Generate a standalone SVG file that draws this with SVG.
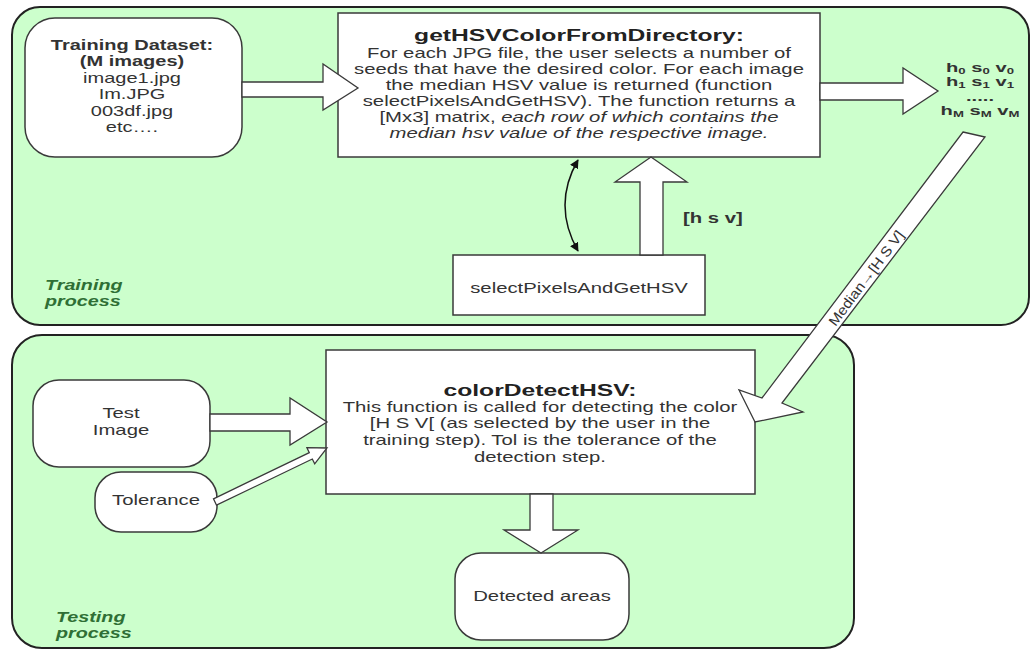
<svg xmlns="http://www.w3.org/2000/svg" width="1034" height="650" viewBox="0 0 1034 650">
<style>
.cont{fill:#ccffcc;stroke:#222;stroke-width:2}
.box{fill:#fff;stroke:#3a3a3a;stroke-width:1.5}
.blk{fill:#fff;stroke:#3a3a3a;stroke-width:1.3;stroke-linejoin:miter}
text{font-family:"Liberation Sans",Arial,sans-serif;fill:#333;text-anchor:middle}
.b{font-size:14px}
.bb{font-size:14px;font-weight:bold}
.hs{font-size:13px;font-weight:bold}
.tt{font-size:17px;font-weight:bold;fill:#222}
.it{font-style:italic}
.lab{font-size:14px;font-weight:bold;font-style:italic;fill:#2f6f35;text-anchor:start}
</style>
<defs>
<marker id="ah" viewBox="0 0 10 10" refX="9" refY="5" markerWidth="9" markerHeight="9" markerUnits="userSpaceOnUse" orient="auto-start-reverse">
<path d="M0,0 L10,5 L0,10 z" fill="#111"/>
</marker>
</defs>

<g id="training-process">
<rect class="cont" x="12" y="7" width="1017" height="318" rx="28"/>
<g transform="translate(45 0) scale(1.41 1)">
<text class="lab" x="0" y="290">Training</text>
<text class="lab" x="0" y="306">process</text>
</g>
</g>

<g id="testing-process">
<rect class="cont" x="12" y="335" width="842" height="313" rx="30"/>
<g transform="translate(56 0) scale(1.41 1)">
<text class="lab" x="0" y="622">Testing</text>
<text class="lab" x="0" y="638">process</text>
</g>
</g>

<g id="training-dataset">
<rect class="box" x="25" y="18" width="217" height="139" rx="30"/>
<g transform="translate(132 0) scale(1.43 1)">
<text class="bb" x="0" y="50">Training Dataset:</text>
<text class="bb" x="0" y="66.5">(M images)</text>
<text class="b" x="0" y="83">image1.jpg</text>
<text class="b" x="0" y="99.5">Im.JPG</text>
<text class="b" x="0" y="116">003df.jpg</text>
<text class="b" x="0" y="132.5">etc….</text>
</g>
</g>

<g id="getHSVColorFromDirectory">
<rect class="box" x="338" y="13" width="482" height="144"/>
<g transform="translate(579 0) scale(1.45 1)">
<text class="tt" x="0" y="41">getHSVColorFromDirectory:</text>
<text class="b" x="0" y="58">For each JPG file, the user selects a number of</text>
<text class="b" x="0" y="74">seeds that have the desired color. For each image</text>
<text class="b" x="0" y="90">the median HSV value is returned (function</text>
<text class="b" x="0" y="106">selectPixelsAndGetHSV). The function returns a</text>
<text class="b" x="0" y="122">[Mx3] matrix, <tspan class="it">each row of which contains the</tspan></text>
<text class="b it" x="0" y="138">median hsv value of the respective image.</text>
</g>
</g>

<g id="hsv-matrix">
<g transform="translate(980 0) scale(1.55 1)">
<text class="hs" x="0" y="72">h<tspan font-size="8.5" dy="2">0</tspan><tspan dy="-2"> s</tspan><tspan font-size="8.5" dy="2">0</tspan><tspan dy="-2"> v</tspan><tspan font-size="8.5" dy="2">0</tspan></text>
<text class="hs" x="0" y="86.5">h<tspan font-size="8.5" dy="2">1</tspan><tspan dy="-2"> s</tspan><tspan font-size="8.5" dy="2">1</tspan><tspan dy="-2"> v</tspan><tspan font-size="8.5" dy="2">1</tspan></text>
<text class="hs" x="0" y="101">.....</text>
<text class="hs" x="0" y="115.5">h<tspan font-size="8.5" dy="2">M</tspan><tspan dy="-2"> s</tspan><tspan font-size="8.5" dy="2">M</tspan><tspan dy="-2"> v</tspan><tspan font-size="8.5" dy="2">M</tspan></text>
</g>
</g>

<g id="selectPixelsAndGetHSV">
<rect class="box" x="453" y="255" width="252" height="60"/>
<g transform="translate(579 0) scale(1.45 1)">
<text class="b" x="0" y="293">selectPixelsAndGetHSV</text>
</g>
</g>

<g id="test-image">
<rect class="box" x="33" y="380" width="177" height="87" rx="26"/>
<g transform="translate(121 0) scale(1.45 1)">
<text class="b" x="0" y="418">Test</text>
<text class="b" x="0" y="435">Image</text>
</g>
</g>

<g id="tolerance">
<rect class="box" x="95" y="472" width="122" height="60" rx="26"/>
<g transform="translate(156 0) scale(1.45 1)">
<text class="b" x="0" y="505">Tolerance</text>
</g>
</g>

<g id="colorDetectHSV">
<rect class="box" x="326" y="350" width="429" height="144"/>
<g transform="translate(540 0) scale(1.45 1)">
<text class="tt" x="0" y="396">colorDetectHSV:</text>
<text class="b" x="0" y="412">This function is called for detecting the color</text>
<text class="b" x="0" y="428">[H S V[ (as selected by the user in the</text>
<text class="b" x="0" y="445">training step). Tol is the tolerance of the</text>
<text class="b" x="0" y="462">detection step.</text>
</g>
</g>

<g id="detected-areas">
<rect class="box" x="455" y="553" width="174" height="87" rx="26"/>
<g transform="translate(542 0) scale(1.45 1)">
<text class="b" x="0" y="601">Detected areas</text>
</g>
</g>

<g id="connectors">
<polygon class="blk" points="242,82 323,82 323,64 358,88 323,110 323,97 242,97"/>
<polygon class="blk" points="820,83 903,83 903,68 938,91 903,114 903,100 820,100"/>
<polygon class="blk" points="640,255 640,182 615,182 651,157 687,182 663,182 663,255"/>
<path d="M578,160 Q552,205 578,251" fill="none" stroke="#111" stroke-width="1.5" marker-start="url(#ah)" marker-end="url(#ah)"/>
<g transform="translate(683 0) scale(1.45 1)">
<text class="bb" x="0" y="223" style="text-anchor:start">[h s v]</text>
</g>
<polygon class="blk" points="963,132 985,137 782,403 803,412 755,422 739,390 762,398"/>
<text x="0" y="0" font-size="14" textLength="115" lengthAdjust="spacingAndGlyphs" transform="translate(866 278) rotate(-53)" dy="5">Median→[H S V]</text>
<polygon class="blk" points="210,414 290,414 290,398 327,422 290,445 290,431 210,431"/>
<polygon class="blk" points="213.5,498.8 309.3,452.6 306.9,447.7 327,448 314.7,463.9 312.3,459 216.5,505.2"/>
<polygon class="blk" points="530,494 530,530 504,530 541,553 578,530 553,530 553,494"/>
</g>
</svg>
